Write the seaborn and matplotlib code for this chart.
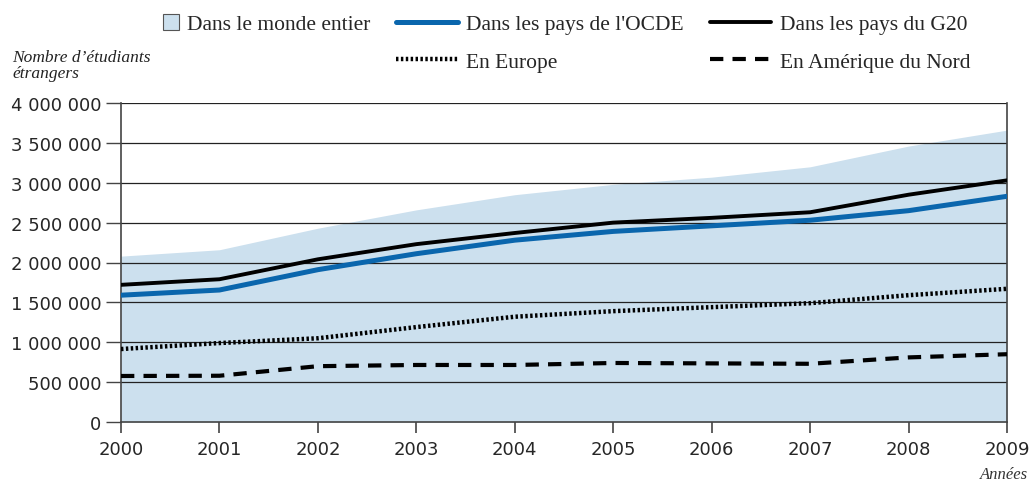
import numpy as np
import pandas as pd
import matplotlib
matplotlib.use("Agg")
import matplotlib.pyplot as plt
import seaborn as sns
from matplotlib.patches import Patch, Rectangle
from matplotlib.lines import Line2D
from matplotlib.legend_handler import HandlerPatch

annees = [2000, 2001, 2002, 2003, 2004, 2005, 2006, 2007, 2008, 2009]
monde = [2080000, 2160000, 2430000, 2660000, 2850000, 2980000, 3070000, 3200000, 3460000, 3660000]
ocde = [1590000, 1655000, 1910000, 2110000, 2280000, 2390000, 2460000, 2530000, 2650000, 2830000]
g20 = [1720000, 1790000, 2040000, 2230000, 2370000, 2500000, 2560000, 2630000, 2850000, 3030000]
europe = [915000, 990000, 1050000, 1190000, 1320000, 1390000, 1440000, 1490000, 1590000, 1670000]
amerique = [577000, 580000, 700000, 715000, 715000, 740000, 735000, 730000, 810000, 850000]
y_ticks = [0, 500000, 1000000, 1500000, 2000000, 2500000, 3000000, 3500000, 4000000]

df = pd.DataFrame({"annee": annees, "monde": monde, "ocde": ocde, "g20": g20,
                   "europe": europe, "amerique": amerique})

sns.set_style("white")
serif = ["Liberation Serif", "DejaVu Serif"]
sans = ["DejaVu Sans"]

bleu_clair = "#cce0ee"
bleu = "#0a66ad"

fig = plt.figure(figsize=(10.31, 4.81), dpi=100)
ax = fig.add_axes([121 / 1031, 1 - 423 / 481, (1007 - 121) / 1031, (423 - 104) / 481])

ax.fill_between(df["annee"], 0, df["monde"], color=bleu_clair, linewidth=0, zorder=1)
for v in y_ticks[1:]:
    ax.axhline(v, color="#222222", lw=0.9, zorder=2)

sns.lineplot(data=df, x="annee", y="amerique", ax=ax, color="black", lw=3,
             linestyle=(0, (3.2, 2.2)), zorder=3)
sns.lineplot(data=df, x="annee", y="europe", ax=ax, color="black", lw=3.2,
             linestyle=(0, (0.55, 0.55)), zorder=3)
sns.lineplot(data=df, x="annee", y="ocde", ax=ax, color=bleu, lw=3.6, zorder=4)
sns.lineplot(data=df, x="annee", y="g20", ax=ax, color="black", lw=2.8, zorder=5)

ax.set_xlim(2000, 2009)
ax.set_ylim(0, 4000000)
ax.set_xticks(annees)
ax.set_xticklabels([str(a) for a in annees], family=sans, fontsize=13)
ax.set_yticks(y_ticks)
ax.set_yticklabels([f"{v:,}".replace(",", " ") for v in y_ticks], family=sans, fontsize=13)
ax.set_xlabel("")
ax.set_ylabel("")
ax.tick_params(axis="y", length=11, width=1, color="#444444", pad=3, direction="out", left=True)
ax.tick_params(axis="x", length=8, width=1.2, color="#444444", pad=5, direction="out", bottom=True)
for cote in ["left", "bottom", "right"]:
    ax.spines[cote].set_color("#444444")
    ax.spines[cote].set_linewidth(1.2)
ax.spines["top"].set_visible(False)
ax.set_axisbelow(False)

fig.text(12 / 1031, 1 - 50 / 481, "Nombre d’étudiants\nétrangers", family=serif, style="italic",
         fontsize=12.5, ha="left", va="top", linespacing=1.0, color="#222222")
fig.text(1028 / 1031, 1 - 475 / 481, "Années", family=serif, style="italic",
         fontsize=12, ha="right", va="center", color="#333333")


def carre(legend, orig_handle, xdescent, ydescent, width, height, fontsize):
    c = height * 1.05
    return Rectangle((-xdescent + width - c, -ydescent + (height - c) / 2), c, c)


handles = [
    Patch(facecolor=bleu_clair, edgecolor="#555555", linewidth=0.8),
    Patch(visible=False),
    Line2D([], [], color=bleu, lw=3.6),
    Line2D([], [], color="black", lw=3.2, linestyle=(0, (0.55, 0.55))),
    Line2D([], [], color="black", lw=2.8),
    Line2D([], [], color="black", lw=3, linestyle=(0, (3.2, 2.2))),
]
labels = ["Dans le monde entier", "", "Dans les pays de l'OCDE", "En Europe",
          "Dans les pays du G20", "En Amérique du Nord"]
leg = fig.legend(handles, labels, ncol=3, loc="upper left",
                 bbox_to_anchor=(100 / 1031, 1 + 2 / 481),
                 frameon=False, prop={"family": serif, "size": 15.5}, handlelength=2.85,
                 handletextpad=0.4, columnspacing=1.2, labelspacing=0.8, borderpad=0.3,
                 handler_map={handles[0]: HandlerPatch(patch_func=carre)})

plt.savefig("out.png", dpi=100)
